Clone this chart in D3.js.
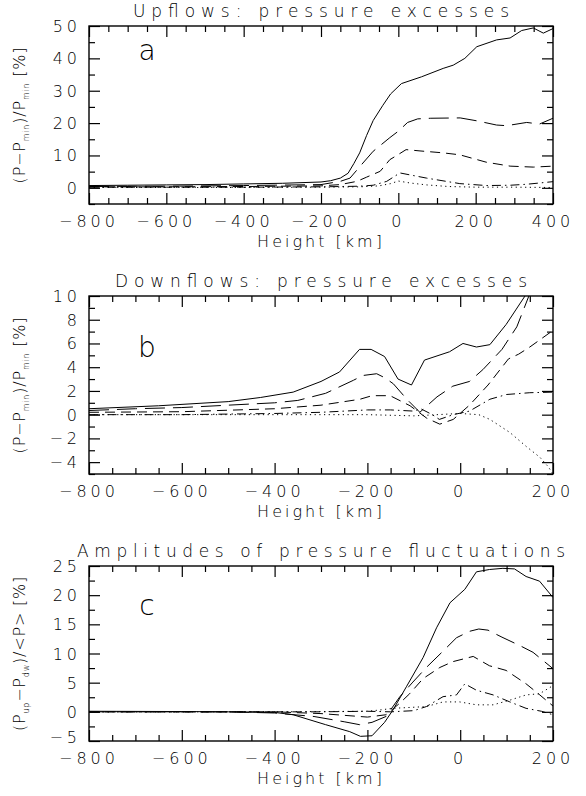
<!DOCTYPE html>
<html>
<head>
<meta charset="utf-8">
<script src="https://cdn.jsdelivr.net/npm/d3@7"></script>
<style>
  body { margin: 0; background: white; }
  text { font-family: "DejaVu Sans", sans-serif; fill: black; }
</style>
</head>
<body>
<div id="wrapper"></div>
<script>
// values, [height km, percent]

// a: upflows
const upSolid = [[-800,0.7],[-700,0.8],[-600,0.9],[-500,1.0],[-400,1.2],[-300,1.4],[-200,1.8],[-175,2.2],[-150,3.0],[-130,4.5],[-115,7.5],[-100,10.8],[-82,16.2],[-65,20.8],[-40,25.5],[-20,29],[8,32.2],[60,34.3],[116,36.9],[142,37.9],[172,40],[203,43.6],[254,45.7],[289,46.3],[319,48.6],[349,49.4],[375,47.8],[400,49.2]]
const upLongDash = [[-800,0.4],[-600,0.5],[-400,0.7],[-200,1.0],[-150,2.0],[-125,3.0],[-100,6.5],[-65,11.3],[-22,15.5],[0,17.5],[24,20.2],[50,21.3],[84,21.5],[160,21.6],[203,20.7],[254,19.4],[280,19.2],[332,20.2],[365,19.7],[400,21.5]]
const upDash = [[-800,0.3],[-600,0.3],[-400,0.4],[-200,0.6],[-150,1.0],[-107,2.0],[-82,3.3],[-47,5.1],[-22,8.7],[0,10.3],[20,11.8],[56,11.4],[116,10.8],[159,10.2],[228,7.9],[289,6.7],[349,6.4],[400,6.7]]
const upDashDot = [[-800,0.2],[-600,0.2],[-400,0.2],[-200,0.3],[-100,0.5],[-65,0.8],[-30,2.0],[4,4.6],[73,3.0],[159,1.3],[228,0.7],[290,0.8],[332,1.1],[400,1.9]]
const upDot = [[-800,0.1],[-600,0.1],[-400,0.1],[-200,0.2],[-100,0.3],[-50,0.6],[-20,1.3],[0,2.1],[30,1.5],[73,0.9],[130,0.4],[200,0.2],[300,0.2],[400,0.1]]

// b: downflows
const downSolid = [[-800,0.5],[-650,0.75],[-500,1.1],[-430,1.45],[-360,1.9],[-300,2.8],[-260,3.6],[-217,5.5],[-192,5.5],[-163,4.9],[-134,3.0],[-105,2.5],[-77,4.6],[-23,5.3],[6,6.0],[35,5.7],[64,5.9],[99,7.6],[121,8.9],[143,10.2],[160,11.5]]
const downLongDash = [[-800,0.35],[-700,0.5],[-600,0.6],[-500,0.8],[-400,1.0],[-350,1.2],[-290,1.8],[-230,2.9],[-210,3.3],[-180,3.45],[-162,3.1],[-144,2.6],[-115,1.3],[-87,0.2],[-50,1.5],[-16,2.4],[20,2.8],[49,3.8],[90,5.5],[122,7.4],[150,10.2],[170,12]]
const downDash = [[-800,0.2],[-600,0.25],[-400,0.5],[-300,0.8],[-216,1.3],[-190,1.6],[-151,1.6],[-108,0.75],[-72,-0.3],[-44,-0.8],[-15,-0.4],[20,0.8],[60,2.5],[104,4.7],[126,5.1],[150,5.7],[175,6.4],[200,7.1]]
const downDashDot = [[-800,0],[-600,0],[-400,0.1],[-300,0.2],[-200,0.4],[-150,0.4],[-100,0.3],[-85,0.5],[-60,0],[-45,-0.4],[-15,0],[20,0.3],[64,1.3],[100,1.7],[150,1.85],[200,1.9]]
const downDot = [[-800,0],[-600,0],[-400,0],[-200,0],[-100,-0.1],[-50,0],[0,0.1],[40,0],[64,-0.4],[107,-1.5],[143,-2.7],[172,-3.6],[190,-4.4],[200,-5]]

// c: amplitudes
const ampSolid = [[-800,0.1],[-600,0.05],[-500,0],[-400,-0.1],[-360,-0.5],[-290,-2.2],[-238,-3.4],[-215,-4.2],[-190,-4.1],[-163,-1.8],[-145,0.3],[-116,4.3],[-80,9.3],[-51,14.4],[-22,18.7],[10,21],[35,24],[63,24.4],[92,24.6],[117,24.5],[142,23.2],[171,22.4],[200,19.6]]
const ampLongDash = [[-800,0],[-500,0],[-400,-0.2],[-315,-0.8],[-250,-1.7],[-217,-2.2],[-190,-1.8],[-160,-0.8],[-130,2.6],[-102,5.1],[-73,7.6],[-37,10.4],[-8,12.7],[20,13.8],[40,14.2],[60,14],[90,12.8],[130,11.3],[157,10.2],[200,7.4]]
const ampDash = [[-800,0],[-400,0],[-300,-0.3],[-250,-0.6],[-200,-0.9],[-160,-0.5],[-130,1.5],[-109,3.1],[-80,5.7],[-44,7.6],[-16,8.6],[28,9.5],[63,7.9],[99,7.1],[142,4.8],[170,3],[200,1.0]]
const ampDashDot = [[-800,0],[-300,0],[-200,0.1],[-150,0],[-100,0.2],[-73,0.9],[-37,2.6],[-8,2.9],[10,4.8],[35,3.7],[71,2.9],[107,1.7],[142,0.6],[175,0.1],[200,-0.5]]
const ampDot = [[-800,0],[-400,0],[-200,0.1],[-175,0.3],[-145,0.6],[-73,0.9],[-37,1.7],[-1,1.7],[35,1.2],[71,1.2],[107,2],[142,2.9],[171,3.1],[200,4.5]]

const titles = ["Upflows: pressure excesses", "Downflows: pressure excesses", "Amplitudes of pressure fluctuations"]
const letters = ["a", "b", "c"]
const xLabel = "Height [km]"

// IDL style line patterns: solid, long dash, dash, dash dot, dot
const dashes = [null, "20 8", "10 6", "9 4 1.5 4", "1.2 3.5"]

let dms = {
  width: 586,
  height: 796,
  left: 89,
  right: 553,
  tops: [26, 296, 566],
  bottoms: [204, 474, 741],
}

const panels = [
  {
    series: [upSolid, upLongDash, upDash, upDashDot, upDot],
    xDomain: [-800, 400], yDomain: [-5, 50],
    yMajor: 10, yMinor: 5, yFirst: 0,
    titleLen: 376,
    yLabel: "(P−P|min|)/P|min| [%]",
  },
  {
    series: [downSolid, downLongDash, downDash, downDashDot, downDot],
    xDomain: [-800, 200], yDomain: [-5, 10],
    yMajor: 2, yMinor: 1, yFirst: -4,
    titleLen: 412,
    yLabel: "(P−P|min|)/P|min| [%]",
  },
  {
    series: [ampSolid, ampLongDash, ampDash, ampDashDot, ampDot],
    xDomain: [-800, 200], yDomain: [-5, 25],
    yMajor: 5, yMinor: 2.5, yFirst: -5,
    titleLen: 488,
    yLabel: "(P|up|−P|dw|)/<P> [%]",
  },
]

const wrapper = d3.select("#wrapper")
  .append("svg")
  .attr("width", dms.width)
  .attr("height", dms.height)

const fmt = d3.format("")

panels.forEach((p, i) => {
  const top = dms.tops[i]
  const bottom = dms.bottoms[i]
  const ph = bottom - top

  const xScale = d3.scaleLinear()
    .domain(p.xDomain)
    .range([dms.left, dms.right])
  const yScale = d3.scaleLinear()
    .domain(p.yDomain)
    .range([bottom, top])

  const g = wrapper.append("g")

  // clip
  const clipId = "clip" + i
  g.append("clipPath").attr("id", clipId)
    .append("rect")
    .attr("x", dms.left).attr("y", top)
    .attr("width", dms.right - dms.left).attr("height", ph)

  // lines
  const lineGen = d3.line()
    .x(d => xScale(d[0]))
    .y(d => yScale(d[1]))

  g.append("g").attr("clip-path", `url(#${clipId})`)
    .selectAll("path")
    .data(p.series)
    .join("path")
    .attr("d", lineGen)
    .attr("fill", "none")
    .attr("stroke", "black")
    .attr("stroke-width", 1)
    .attr("stroke-dasharray", (d, k) => dashes[k])

  // ticks
  const xMajor = d3.range(p.xDomain[0], p.xDomain[1] + 1, 200)
  const xMinor = d3.range(p.xDomain[0], p.xDomain[1] + 1, 50).filter(v => !xMajor.includes(v))
  const yMajor = d3.range(p.yFirst, p.yDomain[1] + 0.01, p.yMajor)
  const yMinor = d3.range(p.yDomain[0], p.yDomain[1] + 0.01, p.yMinor).filter(v => !yMajor.includes(v))

  const axisStyle = sel => {
    sel.select(".domain").remove()
    sel.selectAll("line").attr("stroke", "black").attr("stroke-width", 1.2)
  }

  const tickAxis = (axis, scale, vals, size, pos) => {
    g.append("g")
      .attr("transform", pos)
      .call(axis(scale).tickValues(vals).tickSize(-size).tickFormat(""))
      .call(axisStyle)
  }
  tickAxis(d3.axisBottom, xScale, xMajor, 11, `translate(0,${bottom})`)
  tickAxis(d3.axisBottom, xScale, xMinor, 6, `translate(0,${bottom})`)
  tickAxis(d3.axisTop, xScale, xMajor, 11, `translate(0,${top})`)
  tickAxis(d3.axisTop, xScale, xMinor, 6, `translate(0,${top})`)
  tickAxis(d3.axisLeft, yScale, yMajor, 11, `translate(${dms.left},0)`)
  tickAxis(d3.axisLeft, yScale, yMinor, 6, `translate(${dms.left},0)`)
  tickAxis(d3.axisRight, yScale, yMajor, 11, `translate(${dms.right},0)`)
  tickAxis(d3.axisRight, yScale, yMinor, 6, `translate(${dms.right},0)`)

  // frame
  g.append("rect")
    .attr("x", dms.left).attr("y", top)
    .attr("width", dms.right - dms.left).attr("height", ph)
    .attr("fill", "none").attr("stroke", "black").attr("stroke-width", 1.4)

  // tick labels
  g.selectAll(".xtl")
    .data(xMajor)
    .join("text")
    .attr("x", d => xScale(d))
    .attr("y", bottom + 23)
    .attr("text-anchor", "middle")
    .attr("font-size", 16)
    .attr("font-weight", 200)
    .attr("letter-spacing", 4)
    .text(d => fmt(d))

  // the lowest label of c sits a bit higher, clear of the x labels
  g.selectAll(".ytl")
    .data(yMajor)
    .join("text")
    .attr("x", 81)
    .attr("y", d => yScale(d) + (d === p.yDomain[0] ? 2 : 6))
    .attr("text-anchor", "end")
    .attr("font-size", 16)
    .attr("font-weight", 200)
    .attr("letter-spacing", 4)
    .text(d => fmt(d))

  // title
  g.append("text")
    .attr("x", (dms.left + dms.right) / 2)
    .attr("y", top - 9)
    .attr("text-anchor", "middle")
    .attr("font-size", 17)
    .attr("font-weight", 200)
    .attr("textLength", p.titleLen)
    .attr("lengthAdjust", "spacing")
    .text(titles[i])

  // x label
  g.append("text")
    .attr("x", (dms.left + dms.right) / 2)
    .attr("y", bottom + 43)
    .attr("text-anchor", "middle")
    .attr("font-size", 16)
    .attr("font-weight", 200)
    .attr("letter-spacing", 3)
    .text(xLabel)

  // panel letter
  g.append("text")
    .attr("x", 147)
    .attr("y", top + (i === 0 ? 34 : i === 1 ? 61 : 49))
    .attr("text-anchor", "middle")
    .attr("font-size", 28)
    .attr("font-weight", 200)
    .text(letters[i])

  // y label, rotated, with small subscripts
  const yl = g.append("text")
    .attr("transform", `translate(25,${top + ph / 2}) rotate(-90)`)
    .attr("text-anchor", "middle")
    .attr("font-size", 16)
    .attr("font-weight", 200)
    .attr("letter-spacing", 0.8)
  p.yLabel.split("|").forEach((part, k) => {
    const sub = k % 2 === 1
    yl.append("tspan")
      .attr("font-size", sub ? 8 : 16)
      .attr("dy", sub ? 4 : (k > 0 ? -4 : 0))
      .text(part)
  })
})
</script>
</body>
</html>
